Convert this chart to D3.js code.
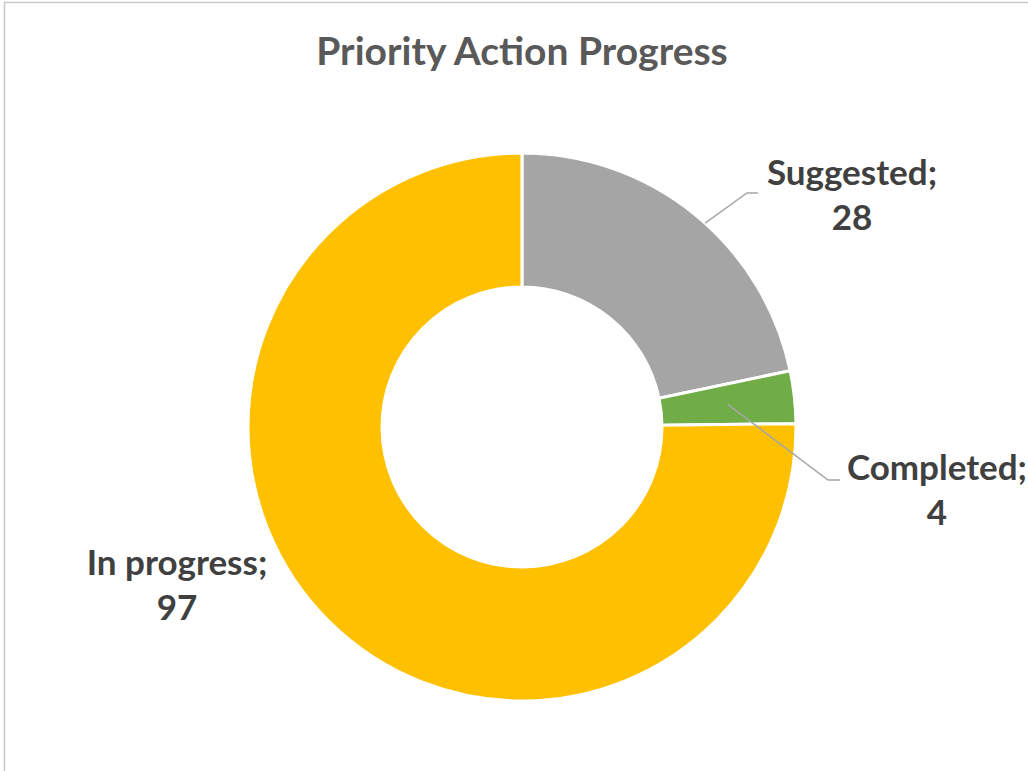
<!DOCTYPE html>
<html><head><meta charset="utf-8">
<script src="https://cdn.jsdelivr.net/npm/d3@7"></script>
<style>html,body{margin:0;padding:0;background:#fff;}svg{display:block;}</style>
</head><body>
<svg id="chart" width="1028" height="771"></svg>
<script>
const categories = ["Suggested", "Completed", "In progress"];
const values = [28, 4, 97];
const colors = ["#A5A5A5", "#70AD47", "#FFC000"];
const title = "Priority Action Progress";

const W = 1028, H = 771;
const cx = 522, cy = 427, rOuter = 274, rInner = 140;
const FONT = "Lato, 'Open Sans', sans-serif";

const svg = d3.select("#chart");
svg.append("path").attr("d", `M4.5,${H} L4.5,2.5 L${W},2.5`)
  .attr("fill", "none").attr("stroke", "#c6c6c6").attr("stroke-width", 1.5);

svg.append("text").attr("x", cx).attr("y", 65).attr("text-anchor", "middle")
  .attr("font-family", FONT).attr("font-weight", 700).attr("font-size", 39)
  .attr("fill", "#595959").text(title);

const data = categories.map((c, i) => ({ name: c, value: values[i], color: colors[i] }));
const pie = d3.pie().value(d => d.value).sort(null);
const arcs = pie(data);
const arc = d3.arc().innerRadius(rInner).outerRadius(rOuter);
const g = svg.append("g").attr("transform", `translate(${cx},${cy})`);
g.selectAll("path.slice").data(arcs).join("path").attr("class", "slice")
  .attr("d", arc).attr("fill", d => d.data.color)
  .attr("stroke", "#fff").attr("stroke-width", 3).attr("stroke-linejoin", "miter");

const labelLayout = {
  "Suggested":   { lx: 330, ly: -242, elbow: [225, -234], end: [236, -234], startR: 274, angOff: 0.05 },
  "Completed":   { lx: 415, ly: 53,   elbow: [306, 53],   end: [318, 53],  startR: 207, angOff: 0 },
  "In progress": { lx: -345, ly: 148, elbow: null }
};

arcs.forEach(a => {
  const L = labelLayout[a.data.name];
  if (L.elbow) {
    const ang = (a.startAngle + a.endAngle) / 2 + L.angOff;
    const sx = L.startR * Math.sin(ang), sy = -L.startR * Math.cos(ang);
    g.append("polyline")
      .attr("points", [[sx, sy], L.elbow, L.end].map(p => p.join(",")).join(" "))
      .attr("fill", "none").attr("stroke", "#A6A6A6").attr("stroke-width", 1.5);
  }
  const t = g.append("text").attr("text-anchor", "middle")
    .attr("font-family", FONT).attr("font-weight", 700).attr("font-size", 35)
    .attr("fill", "#404040");
  t.append("tspan").attr("x", L.lx).attr("y", L.ly).text(a.data.name + ";");
  t.append("tspan").attr("x", L.lx).attr("y", L.ly + 45).text(a.data.value);
});
</script>
</body></html>
